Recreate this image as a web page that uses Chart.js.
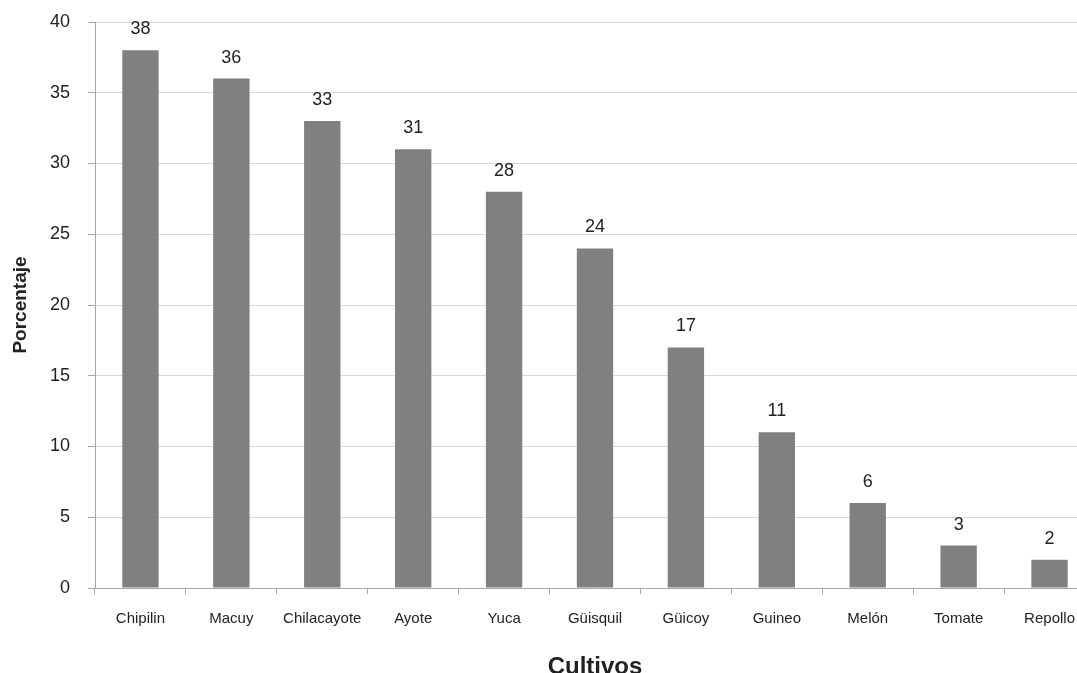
<!DOCTYPE html>
<html>
<head>
<meta charset="utf-8">
<script src="https://cdn.jsdelivr.net/npm/chart.js@4"></script>
<style>
  html, body { margin: 0; padding: 0; background: #fff; overflow: hidden; }
  canvas { display: block; }
</style>
</head>
<body>
<canvas id="cultivos-chart" width="1100" height="692"></canvas>
<script>
const cultivos = ["Chipilin", "Macuy", "Chilacayote", "Ayote", "Yuca", "Güisquil", "Güicoy", "Guineo", "Melón", "Tomate", "Repollo"];
const porcentajes = [38, 36, 33, 31, 28, 24, 17, 11, 6, 3, 2];
const yTicks = [0, 5, 10, 15, 20, 25, 30, 35, 40];

const fontFamily = "'Liberation Sans', Arial, sans-serif";
const textColor = "#222";

// value labels above each bar
const barLabels = {
  id: "barLabels",
  afterDatasetsDraw(chart) {
    const ctx = chart.ctx;
    const meta = chart.getDatasetMeta(0);
    ctx.save();
    ctx.font = "18px " + fontFamily;
    ctx.fillStyle = textColor;
    ctx.textAlign = "center";
    ctx.textBaseline = "alphabetic";
    meta.data.forEach((bar, i) => {
      ctx.fillText(String(porcentajes[i]), bar.x, bar.y - 16);
    });
    ctx.restore();
  },
};

const chartEl = document.getElementById("cultivos-chart");
const myChart = new Chart(chartEl, {
  type: "bar",
  data: {
    labels: cultivos,
    datasets: [
      {
        data: porcentajes,
        backgroundColor: "#808080",
        borderWidth: 0,
        categoryPercentage: 1,
        barPercentage: 0.4,
      },
    ],
  },
  options: {
    responsive: false,
    animation: false,
    events: [],
    layout: { padding: { top: 22, right: 5, bottom: 0, left: 0 } },
    plugins: {
      legend: { display: false },
      tooltip: { enabled: false },
    },
    scales: {
      x: {
        offset: true,
        grid: {
          offset: true,
          drawOnChartArea: false,
          tickLength: 6,
          tickColor: "#a6a6a6",
        },
        border: { color: "#a6a6a6" },
        ticks: {
          color: textColor,
          font: { family: fontFamily, size: 15 },
          padding: 16,
          maxRotation: 0,
          autoSkip: false,
        },
        title: {
          display: true,
          text: "Cultivos",
          color: textColor,
          font: { family: fontFamily, size: 24, weight: "bold" },
          padding: { top: 4, bottom: 10 },
        },
        afterFit(scale) {
          scale.height = 104;
        },
      },
      y: {
        min: 0,
        max: 40,
        afterBuildTicks(scale) {
          scale.ticks = yTicks.map((v) => ({ value: v }));
        },
        grid: {
          color: "#d9d9d9",
          tickLength: 7,
          tickColor: "#a6a6a6",
        },
        border: { color: "#a6a6a6" },
        ticks: {
          color: textColor,
          font: { family: fontFamily, size: 18 },
          padding: 18,
        },
        title: {
          display: true,
          text: "Porcentaje",
          color: textColor,
          font: { family: fontFamily, size: 19, weight: "bold" },
          padding: { top: 9, bottom: 0 },
        },
        afterFit(scale) {
          scale.width = 95;
          scale.paddingTop = 0;
          scale.paddingBottom = 0;
        },
      },
    },
  },
  plugins: [barLabels],
});
</script>
</body>
</html>
